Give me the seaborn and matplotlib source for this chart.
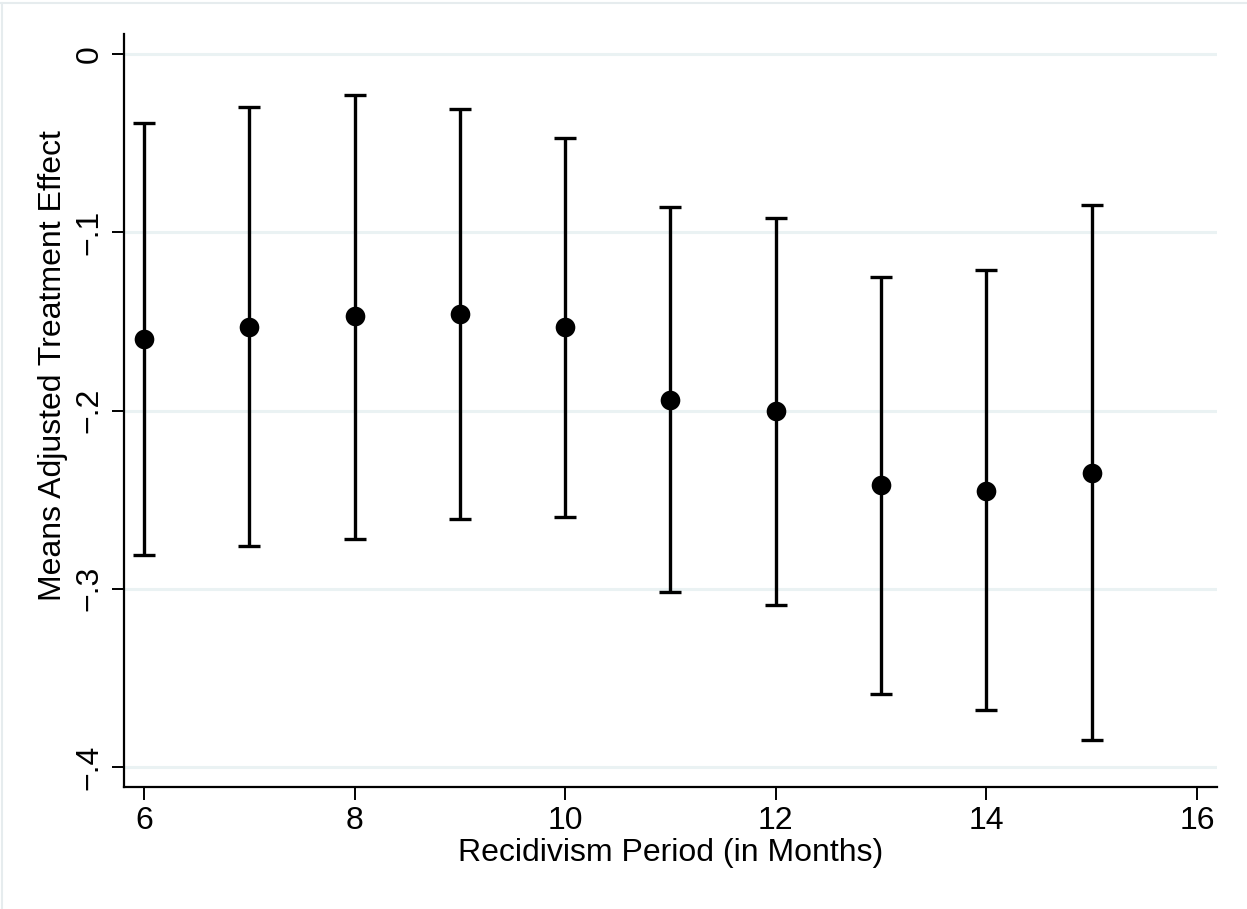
import matplotlib
matplotlib.use("Agg")
import matplotlib.pyplot as plt
import seaborn as sns
import pandas as pd
from matplotlib.lines import Line2D

months = [6, 7, 8, 9, 10, 11, 12, 13, 14, 15]
effect = [-0.160, -0.153, -0.147, -0.146, -0.153, -0.194, -0.200, -0.242, -0.245, -0.235]
ci_upper = [-0.039, -0.030, -0.023, -0.031, -0.047, -0.086, -0.092, -0.125, -0.121, -0.085]
ci_lower = [-0.281, -0.276, -0.272, -0.261, -0.260, -0.302, -0.309, -0.359, -0.368, -0.385]
x_ticks = [6, 8, 10, 12, 14, 16]
y_ticks = [0, -0.1, -0.2, -0.3, -0.4]
y_ticklabels = ["0", "\u2212.1", "\u2212.2", "\u2212.3", "\u2212.4"]

df = pd.DataFrame({"month": months, "effect": effect, "lo": ci_lower, "hi": ci_upper})

sns.set_theme(style="white")
plt.rcParams["font.family"] = ["Liberation Sans", "DejaVu Sans"]
plt.rcParams["text.color"] = "black"
plt.rcParams["axes.labelcolor"] = "black"
plt.rcParams["xtick.color"] = "black"
plt.rcParams["ytick.color"] = "black"

fig = plt.figure(figsize=(12.47, 9.09), dpi=100)
ax = fig.add_axes([124 / 1247, 1 - 787 / 909, (1217 - 124) / 1247, (787 - 34) / 909])

for y in y_ticks:
    ax.axhline(y, color="#eaf2f3", lw=2.2, zorder=0)

yerr = [df["effect"] - df["lo"], df["hi"] - df["effect"]]
ax.errorbar(df["month"], df["effect"], yerr=yerr, fmt="none", ecolor="black",
            elinewidth=2.4, capsize=8, capthick=2.4, zorder=2)
sns.scatterplot(data=df, x="month", y="effect", ax=ax, s=200, color="black",
                edgecolor="black", linewidth=0, zorder=3)

ax.set_xlim(5.81, 16.19)
ax.set_ylim(-0.4112, 0.0112)
ax.set_xticks(x_ticks)
ax.set_xticklabels([str(t) for t in x_ticks], fontsize=23)
ax.set_yticks(y_ticks)
ax.set_yticklabels(y_ticklabels, fontsize=23, rotation=90, va="center")
ax.tick_params(axis="both", length=9, width=1.4, color="black", pad=5, direction="out",
               bottom=True, left=True, labelcolor="black")
ax.set_xlabel("Recidivism Period (in Months)", fontsize=23, labelpad=1, color="black")
ax.set_ylabel("Means Adjusted Treatment Effect", fontsize=23, color="black")
ax.yaxis.set_label_coords(-0.051, 0.56)

for s in ["top", "right"]:
    ax.spines[s].set_visible(False)
for s in ["left", "bottom"]:
    ax.spines[s].set_color("black")
    ax.spines[s].set_linewidth(1.6)

fig.lines.append(Line2D([0, 1], [1 - 3 / 909, 1 - 3 / 909], transform=fig.transFigure,
                        color="#e6ecee", lw=1.5))
fig.lines.append(Line2D([2 / 1247, 2 / 1247], [0, 1 - 3 / 909], transform=fig.transFigure,
                        color="#e6ecee", lw=1.5))

fig.savefig("out.png", dpi=100)
